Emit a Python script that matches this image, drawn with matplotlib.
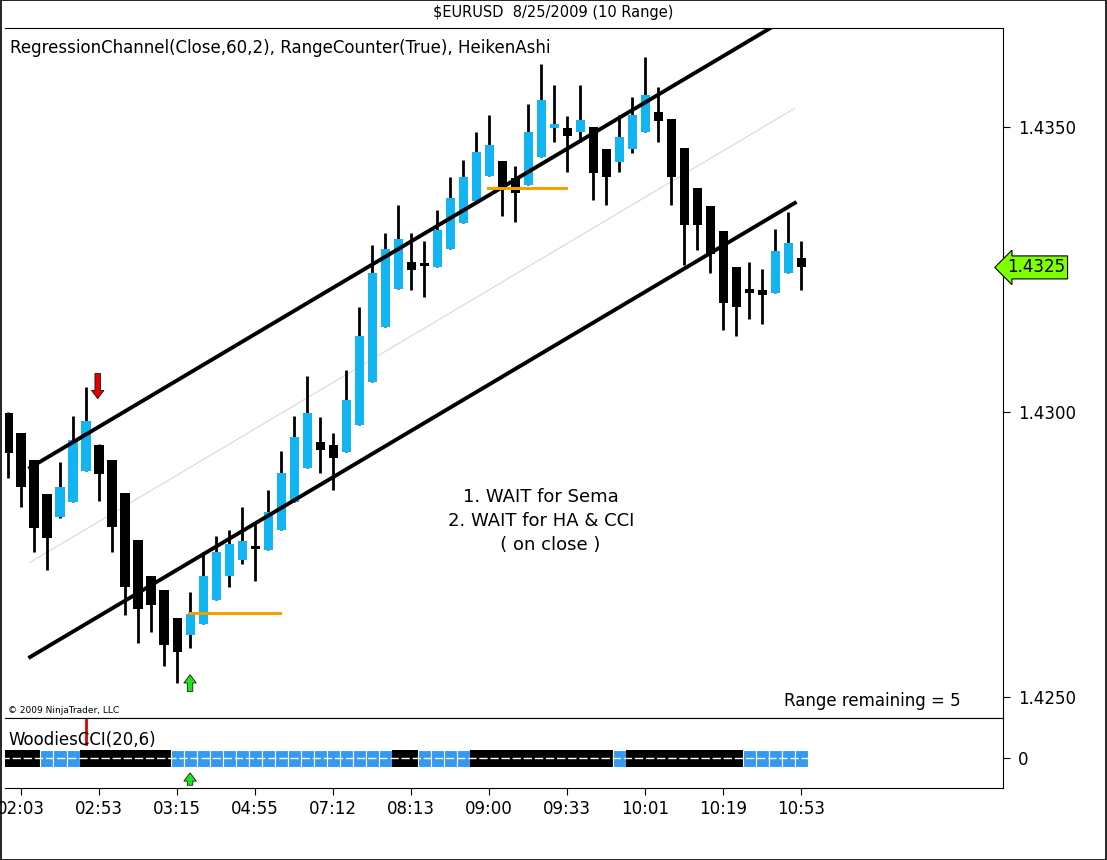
import matplotlib
matplotlib.use("Agg")
import matplotlib.pyplot as plt
from matplotlib.patches import Rectangle

# Heiken Ashi bars (10 range), EURUSD 8/25/2009
opens = [1.42997, 1.42962, 1.42915, 1.42856, 1.42815, 1.42842, 1.42896, 1.42941, 1.42915, 1.42857,
         1.42775, 1.42712, 1.42687, 1.42638, 1.42609, 1.42628, 1.42670, 1.42712, 1.42740, 1.42764,
         1.42757, 1.42792, 1.42842, 1.42901, 1.42947, 1.42941, 1.42929, 1.42976, 1.43052, 1.43148,
         1.43216, 1.43262, 1.43258, 1.43253, 1.43285, 1.43330, 1.43370, 1.43414, 1.43440, 1.43409,
         1.43397, 1.43446, 1.43497, 1.43498, 1.43491, 1.43500, 1.43460, 1.43437, 1.43460, 1.43491,
         1.43525, 1.43514, 1.43463, 1.43393, 1.43360, 1.43316, 1.43253, 1.43216, 1.43213, 1.43208,
         1.43244, 1.43269]
highs = [1.42999, 1.42962, 1.42915, 1.42856, 1.42912, 1.42992, 1.43043, 1.42943, 1.42915, 1.42857,
         1.42775, 1.42712, 1.42687, 1.42638, 1.42684, 1.42754, 1.42782, 1.42792, 1.42833, 1.42803,
         1.42863, 1.42931, 1.42992, 1.43062, 1.42990, 1.42962, 1.43073, 1.43183, 1.43292, 1.43313,
         1.43362, 1.43313, 1.43300, 1.43353, 1.43412, 1.43442, 1.43491, 1.43521, 1.43440, 1.43430,
         1.43540, 1.43610, 1.43572, 1.43519, 1.43572, 1.43500, 1.43460, 1.43521, 1.43551, 1.43621,
         1.43570, 1.43514, 1.43463, 1.43393, 1.43360, 1.43316, 1.43253, 1.43262, 1.43251, 1.43320,
         1.43351, 1.43300]
lows = [1.42884, 1.42833, 1.42754, 1.42722, 1.42813, 1.42842, 1.42896, 1.42843, 1.42754, 1.42644,
        1.42595, 1.42614, 1.42554, 1.42525, 1.42586, 1.42628, 1.42670, 1.42693, 1.42733, 1.42703,
        1.42757, 1.42792, 1.42842, 1.42901, 1.42892, 1.42863, 1.42929, 1.42976, 1.43052, 1.43148,
        1.43216, 1.43213, 1.43202, 1.43253, 1.43285, 1.43330, 1.43370, 1.43414, 1.43344, 1.43332,
        1.43397, 1.43446, 1.43472, 1.43421, 1.43472, 1.43372, 1.43362, 1.43421, 1.43453, 1.43491,
        1.43472, 1.43362, 1.43257, 1.43283, 1.43243, 1.43143, 1.43132, 1.43162, 1.43153, 1.43208,
        1.43244, 1.43213]
closes = [1.42927, 1.42868, 1.42796, 1.42778, 1.42868, 1.42950, 1.42983, 1.42891, 1.42798, 1.42693,
          1.42654, 1.42661, 1.42591, 1.42579, 1.42645, 1.42712, 1.42754, 1.42768, 1.42773, 1.42759,
          1.42824, 1.42892, 1.42955, 1.42997, 1.42933, 1.42919, 1.43020, 1.43132, 1.43243, 1.43285,
          1.43302, 1.43248, 1.43255, 1.43318, 1.43374, 1.43412, 1.43456, 1.43467, 1.43391, 1.43384,
          1.43491, 1.43547, 1.43505, 1.43484, 1.43512, 1.43419, 1.43412, 1.43482, 1.43521, 1.43556,
          1.43509, 1.43412, 1.43327, 1.43327, 1.43276, 1.43190, 1.43183, 1.43209, 1.43204, 1.43281,
          1.43295, 1.43253]

# regression channel: start/end bar and middle-line prices, half width
chan_x = [1.7, 60.5]
chan_mid = [1.42736, 1.43532]
chan_width = 0.00166

# orange support lines: (bar start, bar end, price)
orange_lines = [(13.9, 20.9, 1.42647), (36.9, 42.9, 1.43393)]

# WoodiesCCI trend colour per bar (1 = up/blue, 0 = down/black)
cci_trend = [0] * 3 + [1] * 3 + [0] * 7 + [1] * 17 + [0] * 2 + [1] * 4 + [0] * 11 + [1] + [0] * 9 + [1] * 5

tick_pos = [1, 7, 13, 19, 25, 31, 37, 43, 49, 55, 61]
tick_labels = ["02:03", "02:53", "03:15", "04:55", "07:12", "08:13", "09:00", "09:33", "10:01", "10:19", "10:53"]
price_ticks = [1.4250, 1.4300, 1.4350]

UP = "#12b4f2"
CCI_UP = "#3399f3"
ARROW = "simple,head_width=0.9,head_length=0.6,tail_width=0.4"

fig = plt.figure(figsize=(11.07, 8.6), dpi=100)
ax = fig.add_axes([0.0045, 0.165, 0.9015, 0.802])
axc = fig.add_axes([0.0045, 0.0837, 0.9015, 0.0814], sharex=ax)

for i in range(len(opens)):
    o, h, l, c = opens[i], highs[i], lows[i], closes[i]
    col = UP if c > o else "black"
    ax.plot([i, i], [l, h], color="black", lw=2.0, solid_capstyle="butt", zorder=2)
    bot = min(o, c)
    hgt = max(abs(c - o), 0.00006)
    ax.add_patch(Rectangle((i - 0.35, bot), 0.7, hgt, facecolor=col, edgecolor="none", zorder=3))

# channel
ax.plot(chan_x, chan_mid, color="#d8d8d8", lw=0.8, zorder=1)
ax.plot(chan_x, [chan_mid[0] + chan_width, chan_mid[1] + chan_width], color="black", lw=2.8, zorder=4)
ax.plot(chan_x, [chan_mid[0] - chan_width, chan_mid[1] - chan_width], color="black", lw=2.8, zorder=4)

for x0, x1, p in orange_lines:
    ax.plot([x0, x1], [p, p], color="#f5a000", lw=2.2, zorder=5)

# sema arrows
ax.annotate("", xy=(6.9, 1.43018), xytext=(6.9, 1.43072),
            arrowprops=dict(arrowstyle=ARROW, fc="#e00000", ec="black", lw=0.5))
ax.annotate("", xy=(14.0, 1.42544), xytext=(14.0, 1.42505),
            arrowprops=dict(arrowstyle=ARROW, fc="#20e020", ec="black", lw=0.5))

ax.set_xlim(-0.23, 76.5)
ax.set_ylim(1.42463, 1.43672)
ax.yaxis.tick_right()
ax.set_yticks(price_ticks)
ax.set_yticklabels(["%.4f" % p for p in price_ticks], fontsize=12)
ax.tick_params(axis="y", direction="out", length=5, pad=6)
ax.tick_params(axis="x", bottom=False, labelbottom=False)
ax.spines["left"].set_visible(False)

ax.text(0.005, 0.985, "RegressionChannel(Close,60,2), RangeCounter(True), HeikenAshi",
        transform=ax.transAxes, fontsize=12, va="top", ha="left")
ax.text(0.003, 0.005, "© 2009 NinjaTrader, LLC", transform=ax.transAxes, fontsize=6.5, va="bottom")
ax.text(0.958, 0.012, "Range remaining = 5", transform=ax.transAxes, fontsize=12, ha="right", va="bottom")
ax.text(41.0, 1.42867, "1. WAIT for Sema\n2. WAIT for HA & CCI\n   ( on close )",
        fontsize=13, ha="center", va="top", linespacing=1.45)

# last price marker
ax.annotate("%.4f" % closes[-1], xy=(1.004, closes[-1]), xycoords=("axes fraction", "data"),
            fontsize=12, va="center", ha="left", annotation_clip=False,
            bbox=dict(boxstyle="larrow,pad=0.15", fc="#80ff00", ec="black", lw=0.8))

# CCI panel
for i, t in enumerate(cci_trend):
    axc.add_patch(Rectangle((i - 0.5, -0.9), 1.0, 1.7, facecolor=CCI_UP if t else "black",
                            edgecolor="white" if t else "none", lw=0.8))
axc.plot([-0.5, len(cci_trend) - 0.5], [0, 0], color="white", lw=1.0, ls=(0, (6, 2)))
axc.set_ylim(-3, 4)
axc.yaxis.tick_right()
axc.set_yticks([0])
axc.set_yticklabels(["0"], fontsize=12)
axc.tick_params(axis="y", direction="out", length=5, pad=6)
axc.set_xticks(tick_pos)
axc.set_xticklabels(tick_labels, fontsize=12)
axc.tick_params(axis="x", direction="out", length=5)
axc.spines["left"].set_visible(False)
axc.text(0.003, 0.82, "WoodiesCCI(20,6)", transform=axc.transAxes, fontsize=12, va="top")
axc.plot([6.0, 6.0], [1.4, 3.8], color="#e00000", lw=2)
axc.annotate("", xy=(14.0, -1.2), xytext=(14.0, -3.0), annotation_clip=False,
             arrowprops=dict(arrowstyle=ARROW, fc="#20e020", ec="black", lw=0.5))

fig.text(0.5, 0.985, "$EURUSD  8/25/2009 (10 Range)", ha="center", va="center", fontsize=10.5)
fig.add_artist(Rectangle((0.0005, 0.0005), 0.999, 0.999, transform=fig.transFigure,
                         fill=False, ec="black", lw=1.2))

fig.savefig("out.png", dpi=100)
